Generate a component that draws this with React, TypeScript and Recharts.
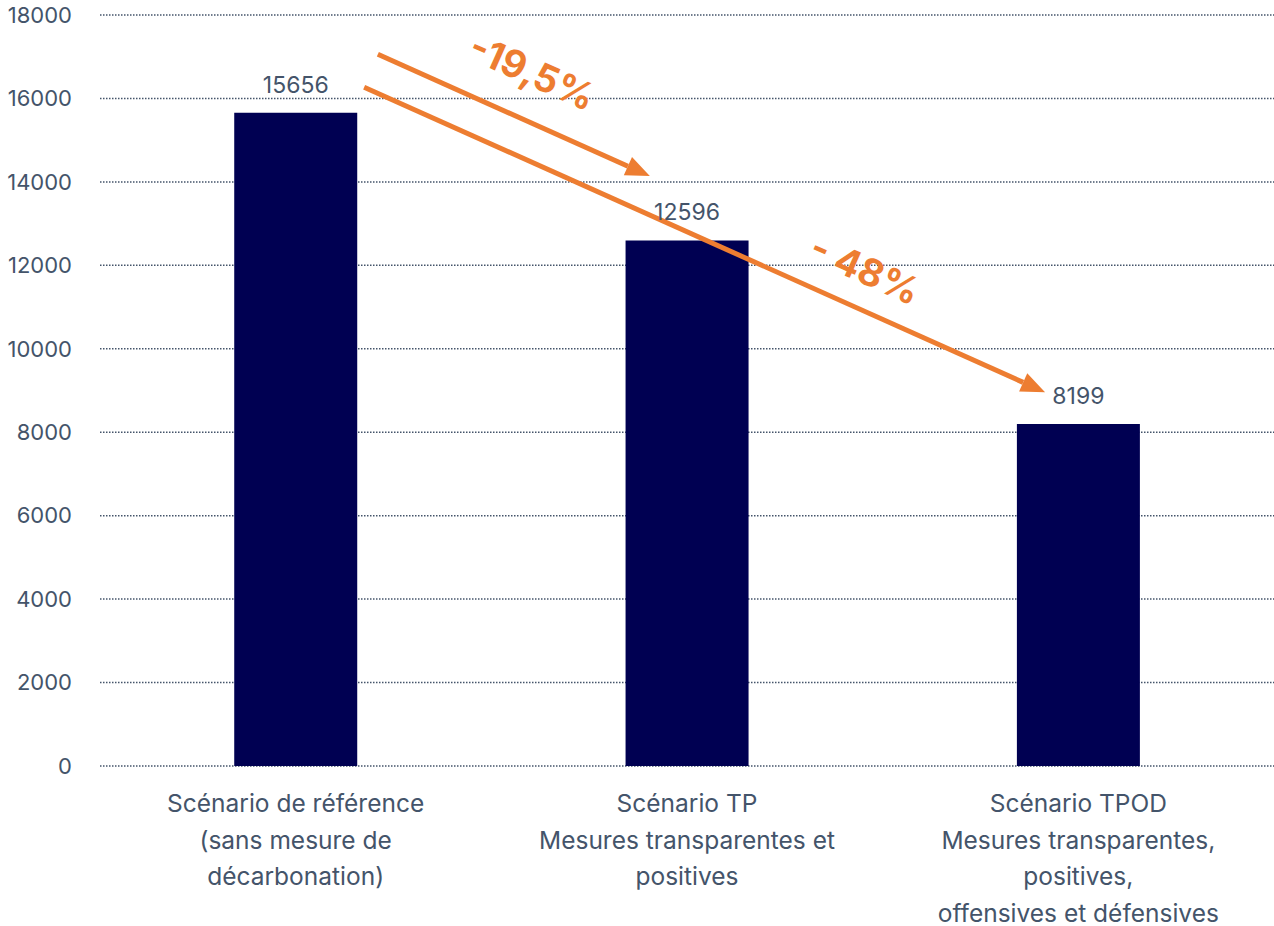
import { Bar, BarChart, CartesianGrid, LabelList, ReferenceDot, ReferenceLine, XAxis, YAxis } from 'recharts';

const scenarios = [
  'Scénario de référence\n(sans mesure de\ndécarbonation)',
  'Scénario TP\nMesures transparentes et\npositives',
  'Scénario TPOD\nMesures transparentes,\npositives,\noffensives et défensives',
];
const emissions = [15656, 12596, 8199];
const yTicks = [0, 2000, 4000, 6000, 8000, 10000, 12000, 14000, 16000, 18000];

// annotation arrows, in (band position, value) units
const arrowShort = [{ x: 0.71, y: 17060 }, { x: 1.405, y: 14140 }];
const arrowLong = [{ x: 0.675, y: 16270 }, { x: 2.415, y: 8960 }];
const arrowLabels = [
  { x: 1.105, y: 16640, text: '-19,5%' },
  { x: 1.955, y: 11900, text: '- 48%' },
];

const data = scenarios.map((name, i) => ({ name, value: emissions[i], pos: i + 0.5 }));

const TEXT = '#44546A';
const ORANGE = '#ED7D31';
const FONT = 'Inter, "Noto Sans", sans-serif';

function Arrow(props: any) {
  const { x1, y1, x2, y2 } = props;
  const ang = Math.atan2(y2 - y1, x2 - x1);
  const len = 24;
  const half = 10;
  const bx = x2 - len * Math.cos(ang);
  const by = y2 - len * Math.sin(ang);
  const px = -Math.sin(ang) * half;
  const py = Math.cos(ang) * half;
  return (
    <g>
      <line x1={x1} y1={y1} x2={bx} y2={by} stroke={ORANGE} strokeWidth={5} />
      <polygon points={`${x2},${y2} ${bx + px},${by + py} ${bx - px},${by - py}`} fill={ORANGE} />
    </g>
  );
}

function XTick(props: any) {
  const { x, y, payload } = props;
  const lines = String(payload.value).split('\n');
  return (
    <text x={x} y={y} textAnchor="middle" fill={TEXT} fontSize={24.5} fontFamily={FONT}>
      {lines.map((l, i) => (
        <tspan key={i} x={x} dy={i === 0 ? 38 : 36.5}>
          {l}
        </tspan>
      ))}
    </text>
  );
}

export default function App() {
  return (
    <div style={{ width: 1274, height: 926 }}>
      <style>{'body{margin:0}'}</style>
      <BarChart
        width={1274}
        height={926}
        data={data}
        margin={{ top: 15, right: 0, bottom: 0, left: 0 }}
        barCategoryGap="34.3%"
      >
        <CartesianGrid vertical={false} stroke={TEXT} strokeDasharray="1.5 1.5" strokeWidth={1.5} />
        <XAxis
          dataKey="name"
          axisLine={false}
          tickLine={false}
          height={160}
          interval={0}
          tick={<XTick />}
        />
        <XAxis xAxisId="n" dataKey="pos" type="number" domain={[0, 3]} allowDataOverflow hide />
        <YAxis
          domain={[0, 18000]}
          ticks={yTicks}
          width={100}
          axisLine={false}
          tickLine={false}
          tickMargin={22}
          tick={{ fill: TEXT, fontSize: 22, fontFamily: FONT }}
        />
        <Bar dataKey="value" fill="#000052" isAnimationActive={false}>
          <LabelList dataKey="value" position="top" offset={20} fill={TEXT} fontSize={23} fontFamily={FONT} />
        </Bar>
        <ReferenceLine xAxisId="n" segment={arrowShort} shape={Arrow} ifOverflow="visible" />
        <ReferenceLine xAxisId="n" segment={arrowLong} shape={Arrow} ifOverflow="visible" />
        {arrowLabels.map((l) => (
          <ReferenceDot
            key={l.text}
            xAxisId="n"
            x={l.x}
            y={l.y}
            ifOverflow="visible"
            shape={(p: any) => (
              <text
                x={p.cx}
                y={p.cy}
                textAnchor="middle"
                dominantBaseline="central"
                transform={`rotate(24 ${p.cx} ${p.cy})`}
                fill={ORANGE}
                fontSize={38}
                fontWeight="bold"
                fontFamily={FONT}
              >
                {l.text}
              </text>
            )}
          />
        ))}
      </BarChart>
    </div>
  );
}
